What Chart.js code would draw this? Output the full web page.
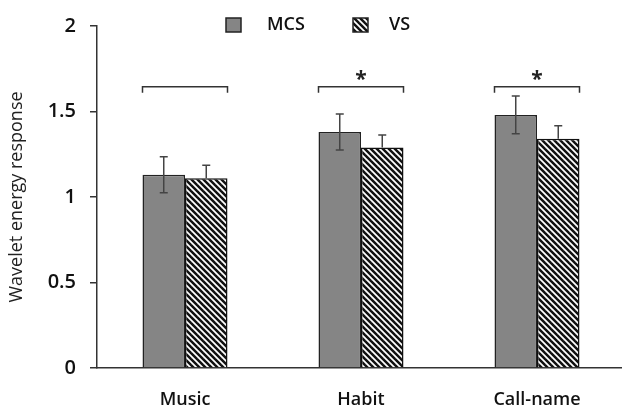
<!DOCTYPE html>
<html>
<head>
<meta charset="utf-8">
<script src="https://cdn.jsdelivr.net/npm/chart.js@4"></script>
<style>
  html, body { margin: 0; padding: 0; background: #fff; overflow: hidden; }
  #chart { display: block; }
</style>
</head>
<body>
<canvas id="chart" width="625" height="411"></canvas>
<script>
// values
const categories = ['Music', 'Habit', 'Call-name'];
const seriesNames = ['MCS', 'VS'];
const mcsValues = [1.13, 1.38, 1.48];
const mcsErrors = [0.105, 0.105, 0.11];
const vsValues = [1.11, 1.29, 1.34];
const vsErrors = [0.075, 0.072, 0.076];
const yTicks = [0, 0.5, 1, 1.5, 2];
const bracketLevels = [1.645, 1.645, 1.645];
const bracketDrop = 0.035;
const starMarks = ['', '*', '*'];

const FONT = '"Open Sans", "DejaVu Sans", sans-serif';
const canvas = document.getElementById('chart');
const mainCtx = canvas.getContext('2d');

// diagonal "\" hatch used for VS bars
function makeHatch() {
    const p = 6;
    const tile = document.createElement('canvas');
    tile.width = p;
    tile.height = p;
    const g = tile.getContext('2d');
    g.fillStyle = '#fff';
    g.fillRect(0, 0, p, p);
    g.strokeStyle = '#111';
    g.lineWidth = 2.5;
    for (const k of [-1, 0, 1]) {
        g.beginPath();
        g.moveTo(k * p - 1, -1);
        g.lineTo(k * p + p + 1, p + 1);
        g.stroke();
    }
    return mainCtx.createPattern(tile, 'repeat');
}
const hatch = makeHatch();
const mcsFill = '#858585';

const errorBarPlugin = {
    id: 'errorBars',
    afterDatasetsDraw(chart) {
        const ctx = chart.ctx;
        const y = chart.scales.y;
        const sets = [[mcsValues, mcsErrors, true], [vsValues, vsErrors, false]];
        ctx.save();
        ctx.strokeStyle = '#444';
        ctx.lineWidth = 1.5;
        sets.forEach(([vals, errs, both], di) => {
            chart.getDatasetMeta(di).data.forEach((bar, i) => {
                const top = y.getPixelForValue(vals[i] + errs[i]);
                const bottom = both ? y.getPixelForValue(vals[i] - errs[i]) : bar.y;
                ctx.beginPath();
                ctx.moveTo(bar.x, top);
                ctx.lineTo(bar.x, bottom);
                ctx.moveTo(bar.x - 4, top);
                ctx.lineTo(bar.x + 4, top);
                if (both) {
                    ctx.moveTo(bar.x - 4, bottom);
                    ctx.lineTo(bar.x + 4, bottom);
                }
                ctx.stroke();
            });
        });
        ctx.restore();
    }
};

const bracketPlugin = {
    id: 'brackets',
    afterDatasetsDraw(chart) {
        const ctx = chart.ctx;
        const y = chart.scales.y;
        const left = chart.getDatasetMeta(0).data;
        const right = chart.getDatasetMeta(1).data;
        ctx.save();
        ctx.strokeStyle = '#333';
        ctx.lineWidth = 1.5;
        ctx.fillStyle = '#222';
        ctx.font = 'bold 21px ' + FONT;
        ctx.textAlign = 'center';
        ctx.textBaseline = 'middle';
        categories.forEach((c, i) => {
            const x0 = left[i].x - left[i].width / 2;
            const x1 = right[i].x + right[i].width / 2;
            const yTop = y.getPixelForValue(bracketLevels[i]);
            const yEnd = y.getPixelForValue(bracketLevels[i] - bracketDrop);
            ctx.beginPath();
            ctx.moveTo(x0, yEnd);
            ctx.lineTo(x0, yTop);
            ctx.lineTo(x1, yTop);
            ctx.lineTo(x1, yEnd);
            ctx.stroke();
            if (starMarks[i]) {
                ctx.fillText(starMarks[i], (x0 + x1) / 2, yTop - 7);
            }
        });
        ctx.restore();
    }
};

const legendPlugin = {
    id: 'topLegend',
    afterDraw(chart) {
        const ctx = chart.ctx;
        const items = [
            { text: seriesNames[0], fill: mcsFill, box: 226, label: 267 },
            { text: seriesNames[1], fill: hatch, box: 353, label: 389 }
        ];
        ctx.save();
        ctx.font = '600 18px ' + FONT;
        ctx.textBaseline = 'middle';
        ctx.textAlign = 'left';
        items.forEach(it => {
            ctx.fillStyle = it.fill;
            ctx.fillRect(it.box, 18, 15, 14);
            ctx.strokeStyle = '#222';
            ctx.lineWidth = 1.5;
            ctx.strokeRect(it.box, 18, 15, 14);
            ctx.fillStyle = '#111';
            ctx.fillText(it.text, it.label, 25);
        });
        ctx.restore();
    }
};

new Chart(canvas, {
    type: 'bar',
    data: {
        labels: categories,
        datasets: [
            {
                label: seriesNames[0],
                data: mcsValues,
                backgroundColor: mcsFill,
                borderColor: '#222',
                borderWidth: 1.5,
                barPercentage: 1,
                categoryPercentage: 0.483
            },
            {
                label: seriesNames[1],
                data: vsValues,
                backgroundColor: hatch,
                borderColor: '#111',
                borderWidth: 1.5,
                barPercentage: 1,
                categoryPercentage: 0.483
            }
        ]
    },
    options: {
        responsive: false,
        animation: false,
        layout: { padding: { top: 20, right: 0, bottom: 0, left: 0 } },
        plugins: {
            legend: { display: false },
            tooltip: { enabled: false }
        },
        scales: {
            x: {
                afterFit(scale) { scale.height = 43; },
                grid: { display: true, drawOnChartArea: false, drawTicks: false },
                border: { display: true, color: '#333', width: 1.5 },
                ticks: { color: '#111', padding: 21, font: { family: FONT, size: 18, weight: '600' } }
            },
            y: {
                min: 0,
                max: 2,
                afterFit(scale) { scale.width = 97; },
                afterBuildTicks(scale) { scale.ticks = yTicks.map(v => ({ value: v })); },
                grid: { drawOnChartArea: false, drawTicks: true, tickLength: 7, color: '#333', lineWidth: 1.5 },
                border: { display: true, color: '#333', width: 1.5 },
                ticks: {
                    color: '#111',
                    padding: 14,
                    font: { family: FONT, size: 20, weight: '600' },
                    callback: v => String(v)
                },
                title: {
                    display: true,
                    text: 'Wavelet energy response',
                    color: '#222',
                    font: { family: FONT, size: 18 },
                    padding: { top: 6, bottom: 4 }
                }
            }
        }
    },
    plugins: [errorBarPlugin, bracketPlugin, legendPlugin]
});
</script>
</body>
</html>
